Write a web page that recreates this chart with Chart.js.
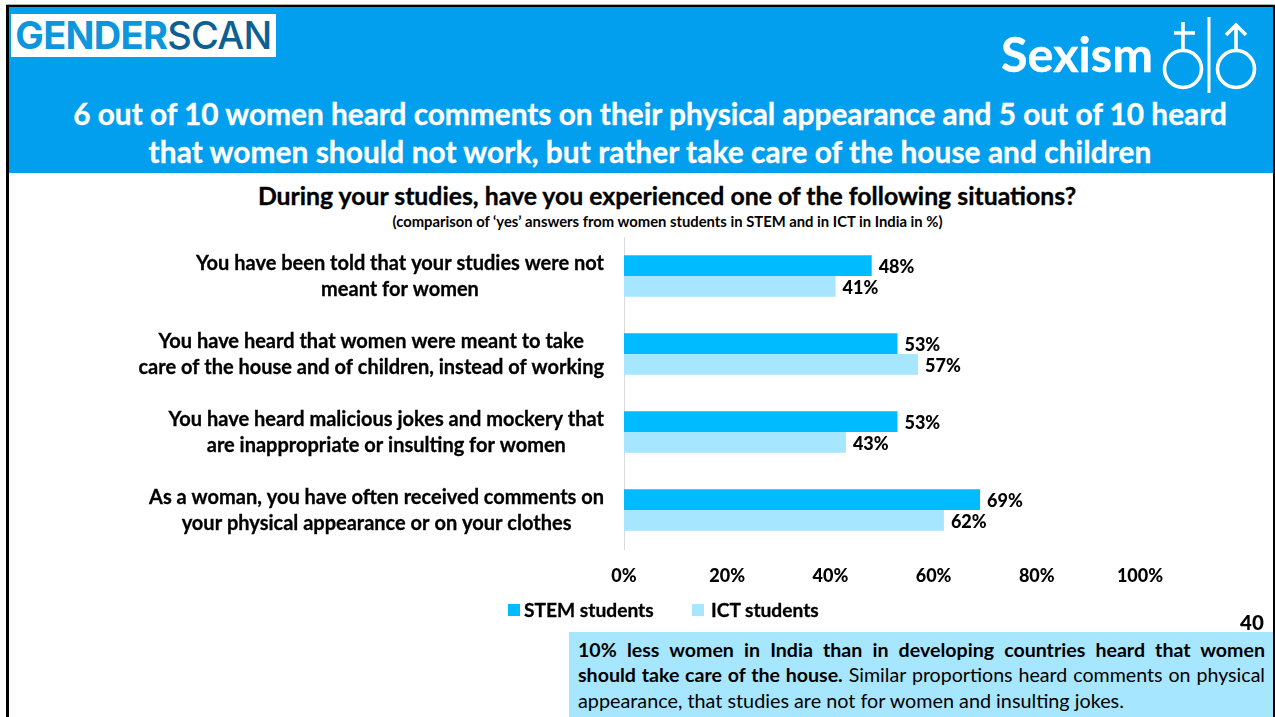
<!DOCTYPE html>
<html lang="en">
<head>
<meta charset="utf-8">
<title>Sexism</title>
<script src="https://cdn.jsdelivr.net/npm/chart.js@4"></script>
<style>
  html, body { margin: 0; padding: 0; background: #fff; }
  body { width: 1275px; height: 717px; position: relative; overflow: hidden; font-family: Lato, sans-serif; color: #000; }
  .abs { position: absolute; white-space: nowrap; }
  #frame { position: absolute; left: 6px; top: 5px; width: 1269px; height: 720px; border: solid #000; border-width: 2px 2px 0 3px; box-sizing: border-box; box-shadow: 0 -1px 0 #B0B0B0; }
  #band { position: absolute; left: 9px; top: 7px; width: 1264px; height: 166px; background: #019FEE; }
  #logo { position: absolute; left: 11px; top: 14px; width: 265px; height: 43px; background: #fff; text-align: center; font: 700 38px/43px Inter, sans-serif; letter-spacing: -0.7px; color: #0E96DD; }
  #logo span { color: #0E5F92; font-weight: 500; }
  #chart { position: absolute; left: 0; top: 0; }
  .bold { -webkit-text-stroke: 0.35px currentColor; }
  .head { color: #fff; font-weight: 700; text-align: center; left: 0; width: 1300px; font-size: 29.8px; line-height: 38px; }
  #callout { position: absolute; left: 569px; top: 632px; width: 704px; height: 85px; background: #A6E6FF; }
  #callout div { position: absolute; left: 9px; width: 687px; font-size: 19.6px; line-height: 26px; white-space: normal; }
  .just { text-align: justify; text-align-last: justify; }
  #legend { position: absolute; left: 0; top: 598px; height: 24px; }
  .lg { position: absolute; top: 0; font-weight: 700; font-size: 19.2px; line-height: 24px; white-space: nowrap; -webkit-text-stroke: 0.3px currentColor; }
  .lg i { position: absolute; top: 6px; width: 12px; height: 12px; }
</style>
</head>
<body>
<div id="band"></div>
<div id="frame"></div>
<div id="logo">GENDER<span>SCAN</span></div>
<div class="abs bold" style="left:1001px;top:27px;color:#fff;font-weight:700;font-size:48.6px;line-height:52px">Sexism</div>
<svg class="abs" style="left:1160px;top:12px" width="100" height="86" viewBox="1160 12 100 86" fill="none" stroke="#fff" stroke-width="3.6">
  <circle cx="1183" cy="69" r="18.5"/>
  <path d="M1183 22V50M1174 33H1195"/>
  <path d="M1209 17V93" stroke-width="3"/>
  <circle cx="1236" cy="69" r="18.5"/>
  <path d="M1236 25V50M1226 35L1236 25L1246 35"/>
</svg>
<div class="abs head bold" style="top:95px">6 out of 10 women heard comments on their physical appearance and 5 out of 10 heard</div>
<div class="abs head bold" style="top:133px;letter-spacing:0.08px">that women should not work, but rather take care of the house and children</div>

<div class="abs bold" style="left:0;width:1334px;text-align:center;top:182px;font-weight:700;font-size:24.8px;line-height:28px">During your studies, have you experienced one of the following situations?</div>
<div class="abs" style="left:0;width:1335px;text-align:center;top:213px;font-weight:700;font-size:14.8px;line-height:16px">(comparison of ‘yes’ answers from women students in STEM and in ICT in India in %)</div>

<canvas id="chart" width="1275" height="717"></canvas>
<div id="legend"></div>

<div class="abs" style="left:1240px;top:610px;font-weight:900;font-size:20.5px;line-height:24px">40</div>
<div id="callout">
  <div class="just" style="top:5px"><b>10% less women in India than in developing countries heard that women</b></div>
  <div class="just" style="top:30px"><b>should take care of the house.</b> Similar proportions heard comments on physical</div>
  <div style="top:55px;font-size:19.8px">appearance, that studies are not for women and insulting jokes.</div>
</div>

<script>
// Survey situations, each split on its drawn line break
const categories = [
  ["You have been told that your studies were not", "meant for women"],
  ["You have heard that women were meant to take", "care of the house and of children, instead of working"],
  ["You have heard malicious jokes and mockery that", "are inappropriate or insulting for women"],
  ["As a woman, you have often received comments on", "your physical appearance or on your clothes"]
];
const stemValues = [48, 53, 53, 69];
const ictValues = [41, 57, 43, 62];
const seriesNames = ["STEM students", "ICT students"];
const seriesColors = ["#00BBFF", "#A6E6FF"];
const xTicks = [0, 20, 40, 60, 80, 100];

// "48%" style labels just past each bar end
const barValueLabels = {
  id: "barValueLabels",
  afterDatasetsDraw(chart) {
    const ctx = chart.ctx;
    ctx.save();
    ctx.font = "900 18px Lato, sans-serif";
    ctx.fillStyle = "#000";
    ctx.textAlign = "left";
    ctx.textBaseline = "middle";
    chart.data.datasets.forEach((ds, i) => {
      chart.getDatasetMeta(i).data.forEach((bar, j) => {
        ctx.fillText(ds.data[j] + "%", bar.x + 7, bar.y + 2);
      });
    });
    ctx.restore();
  }
};

// Category text: each line is centred inside a block whose right edge sits left of the axis
const categoryLabels = {
  id: "categoryLabels",
  afterDraw(chart) {
    const ctx = chart.ctx, y = chart.scales.y;
    ctx.save();
    ctx.font = "700 20px Lato, sans-serif";
    ctx.fillStyle = "#000";
    ctx.strokeStyle = "#000";
    ctx.lineWidth = 0.3;
    ctx.textAlign = "center";
    ctx.textBaseline = "middle";
    const blockRight = 604, lineStep = 26;
    categories.forEach((lines, i) => {
      const w = Math.max(...lines.map(t => ctx.measureText(t).width));
      const cx = blockRight - w / 2, cy = y.getPixelForTick(i);
      lines.forEach((t, k) => {
        const ly = cy + (k - 0.5) * lineStep + 1;
        ctx.fillText(t, cx, ly);
        ctx.strokeText(t, cx, ly);
      });
    });
    ctx.restore();
  }
};

const chart = new Chart(document.getElementById("chart"), {
  type: "bar",
  data: {
    labels: categories,
    datasets: [
      { label: seriesNames[0], data: stemValues, backgroundColor: seriesColors[0] },
      { label: seriesNames[1], data: ictValues, backgroundColor: seriesColors[1] }
    ]
  },
  options: {
    indexAxis: "y",
    responsive: false,
    animation: false,
    layout: { padding: { left: 624, right: 135, top: 237, bottom: 128 } },
    datasets: { bar: { categoryPercentage: 0.534, barPercentage: 1 } },
    plugins: { legend: { display: false }, tooltip: { enabled: false } },
    scales: {
      x: {
        min: 0, max: 100,
        afterBuildTicks(s) { s.ticks = xTicks.map(v => ({ value: v })); },
        afterFit(s) { s.height = 40; },
        grid: { display: false },
        border: { display: false },
        ticks: { padding: 8, color: "#000", font: { family: "Lato", weight: "900", size: 18 }, maxRotation: 0, callback: v => v + "%" }
      },
      y: {
        afterFit(s) { s.width = 0; },
        grid: { display: false },
        border: { display: true, color: "#D9D9D9", width: 1 },
        ticks: { display: false }
      }
    }
  },
  plugins: [barValueLabels, categoryLabels]
});

// Legend row built from the chart's own datasets
const legendX = [[508, 524], [692, 711]];
chart.data.datasets.forEach((ds, i) => {
  const el = document.createElement("div");
  el.className = "lg";
  el.style.left = legendX[i][1] + "px";
  el.textContent = ds.label;
  const sw = document.createElement("i");
  sw.style.left = (legendX[i][0] - legendX[i][1]) + "px";
  sw.style.background = ds.backgroundColor;
  el.appendChild(sw);
  document.getElementById("legend").appendChild(el);
});
</script>
</body>
</html>
